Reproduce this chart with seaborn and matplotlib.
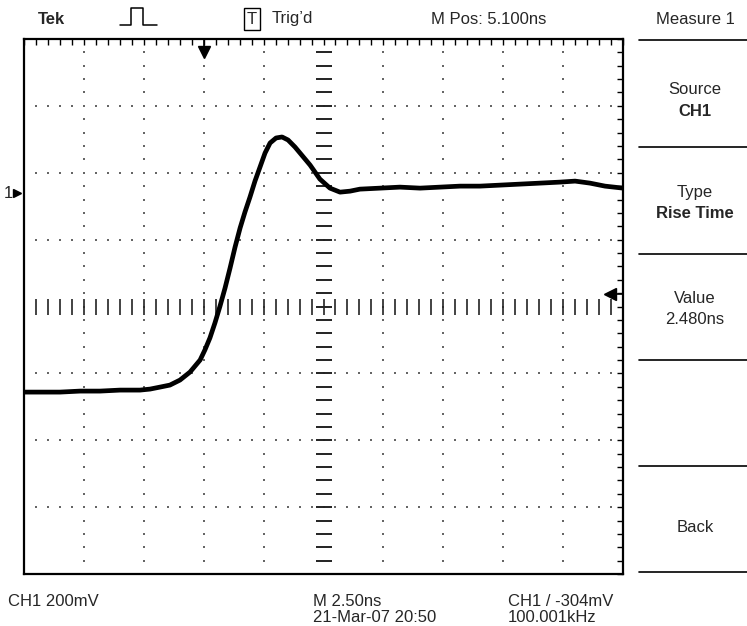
import numpy as np
import matplotlib.pyplot as plt
from matplotlib.lines import Line2D
import seaborn as sns
import pandas as pd

# waveform: time (ns, trigger at 0) and CH1 voltage (mV)
time_ns = [-7.5, -6.0, -5.16, -4.33, -3.49, -2.66, -2.24, -1.82, -1.41, -0.99,
           -0.57, -0.15, 0.05, 0.26, 0.47, 0.68, 0.89, 1.10, 1.31, 1.52,
           1.72, 1.93, 2.14, 2.35, 2.56, 2.77, 3.02, 3.27, 3.52, 3.81,
           4.02, 4.44, 4.85, 5.27, 5.69, 6.11, 6.52, 7.36, 8.19, 9.03,
           9.86, 10.70, 11.53, 12.37, 13.20, 14.04, 14.87, 15.50, 16.12, 16.75, 17.5]
volt_mv = [-596, -596, -593, -593, -590, -590, -587, -581, -575, -560,
           -536, -500, -470, -434, -389, -339, -285, -225, -162, -105,
           -58, -13, 35, 77, 119, 149, 164, 167, 158, 137,
           119, 83, 41, 14, 2, 5, 11, 14, 17, 14,
           17, 20, 20, 23, 26, 29, 32, 35, 29, 20, 14]

trig_level_mv = -304
x_range = (-7.5, 17.5)     # 10 div x 2.5 ns
y_range = (-1140, 460)     # 8 div x 200 mV, ground at +1.7 div
ns_div, mv_div = 2.5, 200

top_labels = ["M Pos: 5.100ns", "Measure 1"]
menu_items = [("Source", "CH1"), ("Type", "Rise Time"), ("Value", "2.480ns")]
bottom_left = "CH1 200mV"
bottom_mid = ["M 2.50ns", "21-Mar-07 20:50"]
bottom_right = ["CH1 / -304mV", "100.001kHz"]

sns.set_style("white")
plt.rcParams['font.family'] = ['Liberation Sans', 'DejaVu Sans']
FS = 12

W, H = 747, 626
fig = plt.figure(figsize=(W / 100, H / 100), dpi=100)
fig.patch.set_facecolor('white')

def fx(x):
    return x / W

def fy(y):
    return 1 - y / H

L, T, R, B = 24, 39, 623, 574
ax = fig.add_axes([fx(L), fy(B), (R - L) / W, (B - T) / H])
ax.set_xlim(*x_range)
ax.set_ylim(*y_range)

# graticule dots
xc = (x_range[0] + x_range[1]) / 2
yc = (y_range[0] + y_range[1]) / 2
vlines = np.arange(x_range[0], x_range[1] + 0.01, ns_div)
hlines = np.arange(y_range[0], y_range[1] + 0.01, mv_div)
dx = np.arange(x_range[0], x_range[1] + 0.01, ns_div / 5)
dy = np.arange(y_range[0], y_range[1] + 0.01, mv_div / 5)
for h in hlines[1:-1]:
    if abs(h - yc) > 1:
        ax.scatter(dx, np.full_like(dx, h), s=2.5, marker='s', color='#666666', linewidths=0)
for v in vlines[1:-1]:
    if abs(v - xc) > 0.01:
        ax.scatter(np.full_like(dy, v), dy, s=2.5, marker='s', color='#666666', linewidths=0)

# center cross tick marks
ax.plot(np.full_like(dy[1:-1], xc), dy[1:-1], ls='none', marker='_', ms=11, mew=1.4, color='#222222')
ax.plot(dx[1:-1], np.full_like(dx[1:-1], yc), ls='none', marker='|', ms=12, mew=1.2, color='#222222')

# waveform
df = pd.DataFrame({'t': time_ns, 'v': volt_mv})
sns.lineplot(data=df, x='t', y='v', ax=ax, color='black', linewidth=3.4, sort=False,
             solid_joinstyle='round', solid_capstyle='round')
ax.set_xlabel('')
ax.set_ylabel('')

# border ticks
ax.set_xticks(dx)
ax.set_yticks(dy)
ax.tick_params(direction='in', length=4, width=1, top=True, right=True,
               labelbottom=False, labelleft=False, color='black')
for s in ax.spines.values():
    s.set_color('black')
    s.set_linewidth(1.6)

# trigger position arrow (top) and trigger level arrow (right)
tr = ax.get_xaxis_transform()
ax.plot([0, 0], [1.0, 0.985], transform=tr, color='black', lw=1.2, clip_on=False)
ax.plot([0], [0.975], transform=tr, marker='v', ms=8, color='black', clip_on=False)
ty = ax.get_yaxis_transform()
ax.plot([0.985, 1.0], [trig_level_mv, trig_level_mv], transform=ty, color='black', lw=1.2, clip_on=False)
ax.plot([0.978], [trig_level_mv], transform=ty, marker='<', ms=8, color='black', clip_on=False)

# channel 1 ground marker
ax.plot([-0.012], [0], transform=ty, marker='>', ms=6, color='black', clip_on=False)
fig.text(fx(4), fy(194), "1", fontsize=FS, va='center', ha='left')

# header
fig.text(fx(38), fy(19), "Tek", fontsize=FS, fontweight='bold', va='center')
pulse_x = [120, 131, 131, 143, 143, 157]
pulse_y = [25, 25, 8, 8, 25, 25]
fig.add_artist(Line2D([fx(x) for x in pulse_x], [fy(y) for y in pulse_y], color='black', lw=1.1))
fig.text(fx(252), fy(19), "T", fontsize=FS, va='center', ha='center',
         bbox=dict(boxstyle='square,pad=0.2', fc='white', ec='black', lw=1))
fig.text(fx(272), fy(19), "Trig\u2019d", fontsize=FS, va='center')
fig.text(fx(431), fy(19), top_labels[0], fontsize=FS, va='center')
fig.text(fx(695), fy(19), top_labels[1], fontsize=FS, va='center', ha='center')

# right menu
for y in [40, 147, 254, 360, 466, 572]:
    fig.add_artist(Line2D([fx(639), fx(747)], [fy(y), fy(y)], color='black', lw=1.2))
for (lab, val), yy in zip(menu_items, [90, 193, 298]):
    fig.text(fx(695), fy(yy), lab, fontsize=FS, va='center', ha='center')
    fig.text(fx(695), fy(yy + 21), val, fontsize=FS, va='center', ha='center',
             fontweight='bold' if lab != "Value" else 'normal')
fig.text(fx(695), fy(528), "Back", fontsize=FS, va='center', ha='center')

# footer
fig.text(fx(8), fy(602), bottom_left, fontsize=FS, va='center')
fig.text(fx(313), fy(602), bottom_mid[0], fontsize=FS, va='center')
fig.text(fx(313), fy(617), bottom_mid[1], fontsize=FS, va='center')
fig.text(fx(508), fy(602), bottom_right[0], fontsize=FS, va='center')
fig.text(fx(508), fy(617), bottom_right[1], fontsize=FS, va='center')

fig.savefig('out.png', dpi=100)
